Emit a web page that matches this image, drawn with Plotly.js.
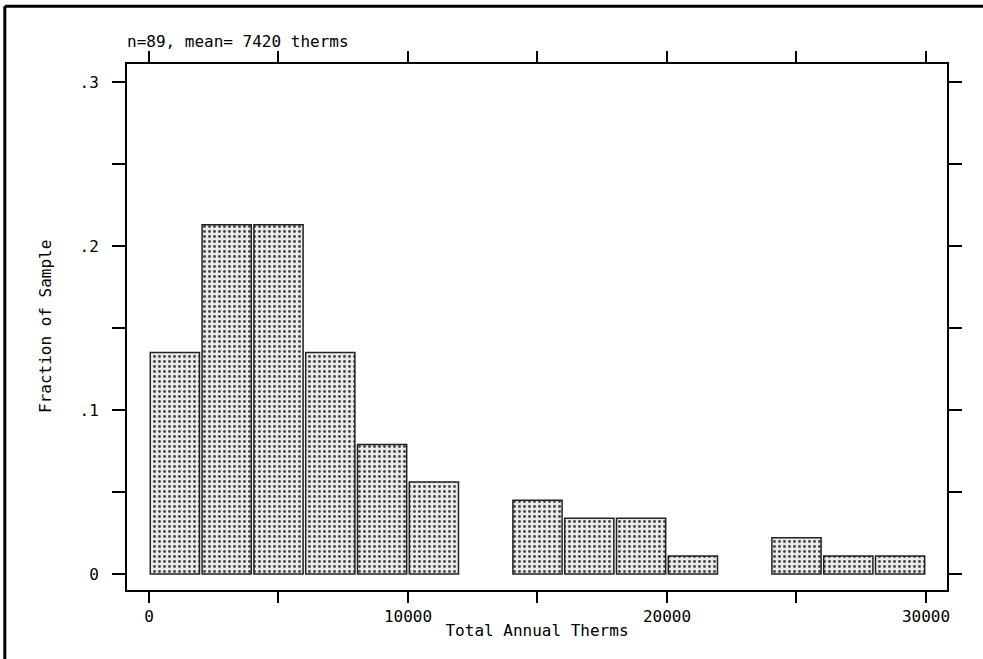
<!DOCTYPE html>
<html>
<head>
<meta charset="utf-8">
<script src="https://cdn.plot.ly/plotly-3.0.1.min.js"></script>
<style>
  html, body { margin: 0; padding: 0; background: #fff; }
  #chart { width: 983px; height: 659px; }
</style>
</head>
<body>
<div id="chart"></div>
<script>
// Bin centers (Total Annual Therms, bins of width 2000)
const binCenters = [1000, 3000, 5000, 7000, 9000, 11000, 13000, 15000, 17000, 19000, 21000, 23000, 25000, 27000, 29000];
// Fraction of sample in each bin (null = empty bin, no bar drawn)
const fractions = [0.135, 0.213, 0.213, 0.135, 0.079, 0.056, null, 0.045, 0.034, 0.034, 0.011, null, 0.022, 0.011, 0.011];

const xTickVals = [0, 5000, 10000, 15000, 20000, 25000, 30000];
const xTickText = ['0', '', '10000', '', '20000', '', '30000'];
const yTickVals = [0, 0.05, 0.1, 0.15, 0.2, 0.25, 0.3];
const yTickText = ['0', '', '.1', '', '.2', '', '.3'];

const titleText = 'n=89, mean= 7420 therms';
const xTitle = 'Total Annual Therms';
const yTitle = 'Fraction of Sample';

const FONT = '"DejaVu Sans Mono", "Liberation Mono", monospace';

const trace = {
  type: 'bar',
  x: binCenters,
  y: fractions,
  width: 1900,
  marker: {
    color: '#ffffff',
    pattern: { shape: '.', fgcolor: '#4a4a4a', bgcolor: '#eaeaea', size: 5, solidity: 0.28 },
    line: { color: '#222222', width: 1.5 }
  },
  hoverinfo: 'x+y'
};

const layout = {
  width: 983,
  height: 659,
  margin: { l: 127, r: 36, t: 64, b: 69, pad: 0 },
  paper_bgcolor: '#ffffff',
  plot_bgcolor: '#ffffff',
  font: { family: FONT, size: 16, color: '#000000' },
  showlegend: false,
  bargap: 0,
  xaxis: {
    range: [-849, 30811],
    tickmode: 'array',
    tickvals: xTickVals,
    ticktext: xTickText,
    ticks: 'outside',
    ticklen: 11,
    tickwidth: 2,
    tickcolor: '#000',
    showline: true,
    linewidth: 2,
    linecolor: '#000',
    mirror: 'allticks',
    showgrid: false,
    zeroline: false,
    tickfont: { family: FONT, size: 16 },
    title: { text: xTitle, font: { family: FONT, size: 16 }, standoff: 0 },
    automargin: false
  },
  yaxis: {
    range: [-0.0098, 0.311],
    tickmode: 'array',
    tickvals: yTickVals,
    ticktext: yTickText,
    ticks: 'outside',
    ticklen: 13,
    tickwidth: 2,
    tickcolor: '#000',
    showline: true,
    linewidth: 2,
    linecolor: '#000',
    mirror: 'allticks',
    showgrid: false,
    zeroline: false,
    ticklabelstandoff: 10,
    tickfont: { family: FONT, size: 16 },
    automargin: false
  },
  annotations: [{
    text: titleText,
    xref: 'paper', yref: 'paper',
    x: -0.002, y: 1.042,
    xanchor: 'left', yanchor: 'middle',
    showarrow: false,
    font: { family: FONT, size: 16, color: '#000' }
  }, {
    text: yTitle,
    xref: 'paper', yref: 'paper',
    x: -0.1, y: 0.5,
    xanchor: 'center', yanchor: 'middle',
    textangle: -90,
    showarrow: false,
    font: { family: FONT, size: 16, color: '#000' }
  }],
  shapes: [
    { type: 'line', xref: 'paper', yref: 'paper', x0: -0.149, x1: -0.149, y0: 1.11, y1: -0.14, line: { color: '#000', width: 3 } },
    { type: 'line', xref: 'paper', yref: 'paper', x0: -0.149, x1: 1.05, y0: 1.11, y1: 1.11, line: { color: '#000', width: 3 } }
  ]
};

Plotly.newPlot('chart', [trace], layout, { displayModeBar: false, staticPlot: true });
</script>
</body>
</html>
